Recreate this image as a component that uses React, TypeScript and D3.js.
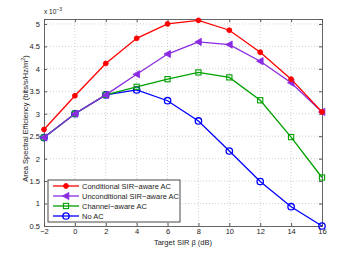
import React, { useEffect, useRef } from 'react';
import * as d3 from 'd3';

const beta = [-2, 0, 2, 4, 6, 8, 10, 12, 14, 16];
const conditional = [2.65, 3.4, 4.12, 4.68, 5.0, 5.08, 4.86, 4.37, 3.77, 3.04];
const unconditional = [2.47, 3.0, 3.42, 3.88, 4.33, 4.6, 4.54, 4.17, 3.69, 3.04];
const channelAware = [2.47, 3.0, 3.42, 3.6, 3.77, 3.92, 3.81, 3.3, 2.48, 1.58];
const noAC = [2.47, 3.0, 3.42, 3.53, 3.29, 2.84, 2.17, 1.49, 0.93, 0.5];
const xTicks = [-2, 0, 2, 4, 6, 8, 10, 12, 14, 16];
const yTicks = [0.5, 1, 1.5, 2, 2.5, 3, 3.5, 4, 4.5, 5];
const seriesNames = ['Conditional SIR\u2212aware AC', 'Unconditional SIR\u2212aware AC', 'Channel\u2212aware AC', 'No AC'];

const App = () => {
  const svgRef = useRef<SVGSVGElement>(null);

  useEffect(() => {
    const svg = d3.select(svgRef.current);
    svg.selectAll('*').remove();
    const font = '"Liberation Sans", Arial, Helvetica, sans-serif';
    const left = 44, right = 322, top = 19, bottom = 226;
    const x = d3.scaleLinear().domain([-2, 16]).range([left, right]);
    const y = d3.scaleLinear().domain([0.5, 5.11]).range([bottom, top]);

    svg.append('rect').attr('width', 355).attr('height', 255).attr('fill', '#fff');

    // grid
    const grid = svg.append('g').attr('stroke', '#b0b0b0').attr('stroke-width', 0.6).attr('stroke-dasharray', '1,2');
    xTicks.slice(1, -1).forEach(t => {
      grid.append('line').attr('x1', x(t)).attr('x2', x(t)).attr('y1', top).attr('y2', bottom);
    });
    yTicks.slice(1).forEach(t => {
      grid.append('line').attr('x1', left).attr('x2', right).attr('y1', y(t)).attr('y2', y(t));
    });

    // axes (ticks inward)
    const xAxis = svg.append('g').attr('transform', `translate(0,${bottom})`)
      .call(d3.axisBottom(x).tickValues(xTicks).tickSize(-3).tickPadding(3).tickFormat(d3.format('d')));
    const yAxis = svg.append('g').attr('transform', `translate(${left},0)`)
      .call(d3.axisLeft(y).tickValues(yTicks).tickSize(-3).tickPadding(4).tickFormat(d => String(d)));
    svg.append('g').attr('transform', `translate(0,${top})`)
      .call(d3.axisTop(x).tickValues(xTicks).tickSize(-3).tickFormat(() => ''));
    svg.append('g').attr('transform', `translate(${right},0)`)
      .call(d3.axisRight(y).tickValues(yTicks).tickSize(-3).tickFormat(() => ''));
    svg.selectAll('.domain').attr('stroke', '#555').attr('stroke-width', 0.9);
    svg.selectAll('.tick line').attr('stroke', '#555');
    [xAxis, yAxis].forEach(a => a.selectAll('text').attr('font-family', font).attr('font-size', 7.5).attr('fill', '#222'));

    // exponent
    const ex = svg.append('text').attr('x', 44).attr('y', 14).attr('font-family', font).attr('font-size', 6.5).attr('fill', '#222');
    ex.append('tspan').text('x 10');
    ex.append('tspan').attr('dy', -3).attr('font-size', 5).text('\u22123');

    // labels
    svg.append('text').attr('x', 183).attr('y', 245).attr('text-anchor', 'middle')
      .attr('font-family', font).attr('font-size', 7.5).attr('fill', '#222').text('Target SIR \u03b2 (dB)');
    const yl = svg.append('text').attr('transform', `translate(28,${(top + bottom) / 2 - 4}) rotate(-90)`)
      .attr('text-anchor', 'middle').attr('font-family', font).attr('font-size', 7.5).attr('fill', '#222');
    yl.append('tspan').text('Area Spectral Efficiency (bits/s/Hz/m');
    yl.append('tspan').attr('dy', -3).attr('font-size', 5.5).text('2');
    yl.append('tspan').attr('dy', 3).text(')');

    const series = [
      { values: conditional, color: '#ff0000', marker: 'dot' },
      { values: unconditional, color: '#8a2be2', marker: 'tri' },
      { values: channelAware, color: '#00a000', marker: 'square' },
      { values: noAC, color: '#0000ff', marker: 'circle' },
    ];

    const drawMarker = (g: any, type: string, cx: number, cy: number, color: string) => {
      if (type === 'dot') {
        g.append('circle').attr('cx', cx).attr('cy', cy).attr('r', 2.4).attr('fill', color).attr('stroke', color);
      } else if (type === 'tri') {
        const s = 3.6;
        g.append('path').attr('d', `M${cx - s},${cy}L${cx + s * 0.8},${cy - s}L${cx + s * 0.8},${cy + s}Z`)
          .attr('fill', color).attr('stroke', color).attr('stroke-width', 0.8);
      } else if (type === 'square') {
        g.append('rect').attr('x', cx - 2.6).attr('y', cy - 2.6).attr('width', 5.2).attr('height', 5.2)
          .attr('fill', 'none').attr('stroke', color).attr('stroke-width', 1.1);
      } else {
        g.append('circle').attr('cx', cx).attr('cy', cy).attr('r', 3.2).attr('fill', 'none').attr('stroke', color).attr('stroke-width', 1.3);
      }
    };

    const line = d3.line<number>().x((_, i) => x(beta[i])).y(d => y(d));
    // draw bottom-most first so red ends on top
    [...series].reverse().forEach(s => {
      const g = svg.append('g');
      g.append('path').datum(s.values).attr('d', line).attr('fill', 'none').attr('stroke', s.color).attr('stroke-width', 1.3);
      s.values.forEach((v, i) => drawMarker(g, s.marker, x(beta[i]), y(v), s.color));
    });

    // legend
    const lg = svg.append('g');
    lg.append('rect').attr('x', 48).attr('y', 180).attr('width', 132).attr('height', 42)
      .attr('fill', '#fff').attr('stroke', '#333').attr('stroke-width', 0.9);
    series.forEach((s, i) => {
      const cy = 186 + i * 10;
      lg.append('line').attr('x1', 53).attr('x2', 79).attr('y1', cy).attr('y2', cy).attr('stroke', s.color).attr('stroke-width', 1.3);
      drawMarker(lg, s.marker, 66, cy, s.color);
      lg.append('text').attr('x', 82).attr('y', cy + 2.6).attr('font-family', font).attr('font-size', 7.5).attr('fill', '#222').text(seriesNames[i]);
    });
  }, []);

  return <svg ref={svgRef} width={355} height={255} style={{ position: 'absolute', left: 0, top: 0 }}></svg>;
};

export default App;
